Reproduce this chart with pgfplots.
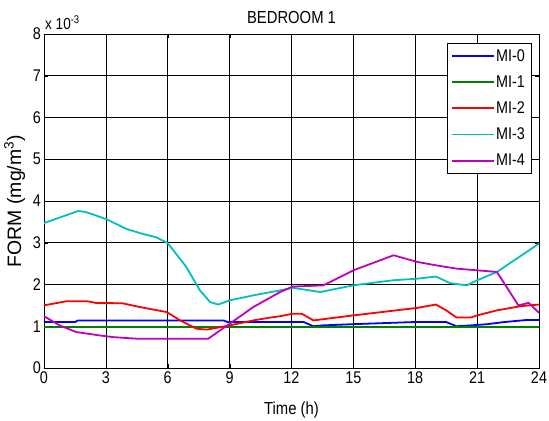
\documentclass[border=0pt]{standalone}
\usepackage{fontspec}
\setmainfont{Liberation Sans}[FakeStretch=0.85]
\newfontfamily\ylfont{Liberation Sans}
\usepackage{pgfplots}
\pgfplotsset{compat=1.18}
\definecolor{mblue}{rgb}{0,0,1}
\definecolor{mgreen}{rgb}{0,0.5,0}
\definecolor{mred}{rgb}{1,0,0}
\definecolor{mcyan}{rgb}{0,0.75,0.75}
\definecolor{mmag}{rgb}{0.75,0,0.75}
\begin{document}
\begin{tikzpicture}
\useasboundingbox (-44bp,-53bp) rectangle (505bp,368bp);
\begin{axis}[
  scale only axis,
  width=495bp, height=334bp,
  xmin=0, xmax=24, ymin=0, ymax=8,
  xtick={0,3,...,24}, ytick={0,1,...,8},
  grid=major,
  major grid style={black, line width=0.7pt},
  axis line style={black, line width=0.9pt},
  tick style={black},
  tick align=inside,
  font=\fontsize{17}{19}\selectfont,
  /pgf/number format/assume math mode=true,
  xticklabel style={yshift=0pt},
  yticklabel style={xshift=0.5pt},
  xlabel={Time (h)},
  ylabel={\ylfont FORM (mg/m\textsuperscript{3})},
  xlabel style={font=\fontsize{17.5}{19}\selectfont, yshift=-12pt},
  ylabel style={font=\fontsize{19.5}{21}\selectfont, yshift=1pt},
  title={BEDROOM 1},
  title style={font=\fontsize{17.5}{19}\selectfont, yshift=1pt},
  legend style={at={(0.984,0.973)}, anchor=north east,
    font=\fontsize{17}{19}\selectfont, row sep=9pt, inner sep=4pt},
  legend cell align=left,
  legend image code/.code={\fill[#1, draw=none] (0cm,-0.9pt) rectangle (1.5cm,0.9pt);},
  clip=true,
]
\addplot[color=mblue, line width=1.8pt] coordinates {(0,1.10) (1.5,1.10) (1.65,1.14) (8.7,1.14) (8.9,1.10) (12.6,1.10) (13.06,1.00) (13.5,1.02) (15,1.05) (17.9,1.10) (19.5,1.10) (20,1.00) (20.7,1.02) (21.5,1.05) (22.3,1.10) (23.4,1.15) (24,1.15)};
\addlegendentry{MI-0}
\addplot[color=mgreen, line width=1.8pt] coordinates {(0,0.99) (24,0.99)};
\addlegendentry{MI-1}
\addplot[color=mred, line width=1.8pt] coordinates {(0,1.50) (1.1,1.60) (2.1,1.60) (2.5,1.56) (3.8,1.55) (4.65,1.46) (5.95,1.34) (6.6,1.14) (7.4,0.94) (7.9,0.92) (9,1.02) (10.15,1.14) (11.0,1.21) (11.45,1.24) (12.06,1.30) (12.5,1.30) (13.06,1.14) (15,1.26) (18.1,1.44) (19,1.52) (19.5,1.38) (20,1.21) (20.7,1.21) (21,1.26) (21.96,1.38) (23.1,1.48) (24,1.52)};
\addlegendentry{MI-2}
\addplot[color=mcyan, line width=1.8pt] coordinates {(0,3.47) (1.65,3.76) (2.0,3.74) (3,3.57) (4.0,3.33) (4.8,3.21) (5.45,3.13) (6,2.99) (6.9,2.42) (7.56,1.86) (8.05,1.58) (8.45,1.52) (9,1.62) (10.15,1.74) (11.45,1.86) (12.06,1.92) (12.6,1.88) (13.4,1.82) (15,1.98) (16.9,2.10) (18.1,2.14) (19,2.19) (19.7,2.03) (20.5,1.98) (21,2.10) (21.96,2.30) (24,2.98)};
\addlegendentry{MI-3}
\addplot[color=mmag, line width=1.8pt] coordinates {(0,1.24) (0.76,1.02) (1.57,0.86) (2.7,0.78) (3.35,0.74) (4.56,0.70) (7.96,0.70) (9,1.06) (10.15,1.46) (11.45,1.82) (12.06,1.95) (13.55,1.98) (15,2.34) (16.95,2.70) (18.1,2.54) (19,2.46) (20,2.38) (21,2.34) (21.96,2.30) (23,1.50) (23.5,1.56) (24,1.32)};
\addlegendentry{MI-4}
\end{axis}
\node[anchor=south west, font=\fontsize{16}{18}\selectfont, inner sep=0pt] at (1bp,338bp) {x 10\textsuperscript{-3}};
\end{tikzpicture}
\end{document}
